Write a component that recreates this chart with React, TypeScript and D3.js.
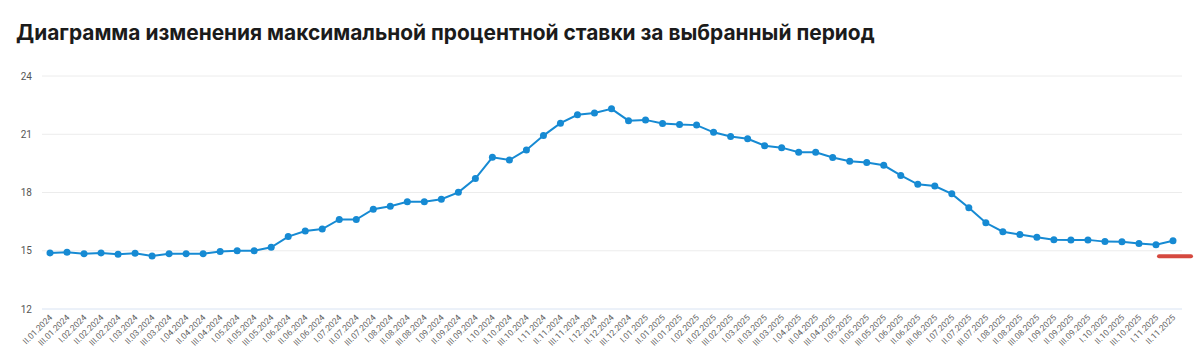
import React, { useEffect } from 'react';
import * as d3 from 'd3';

const title = 'Диаграмма изменения максимальной процентной ставки за выбранный период';

const periods = [
  'II.01.2024', 'III.01.2024',
  'I.02.2024', 'II.02.2024', 'III.02.2024',
  'I.03.2024', 'II.03.2024', 'III.03.2024',
  'I.04.2024', 'II.04.2024', 'III.04.2024',
  'I.05.2024', 'II.05.2024', 'III.05.2024',
  'I.06.2024', 'II.06.2024', 'III.06.2024',
  'I.07.2024', 'II.07.2024', 'III.07.2024',
  'I.08.2024', 'II.08.2024', 'III.08.2024',
  'I.09.2024', 'II.09.2024', 'III.09.2024',
  'I.10.2024', 'II.10.2024', 'III.10.2024',
  'I.11.2024', 'II.11.2024', 'III.11.2024',
  'I.12.2024', 'II.12.2024', 'III.12.2024',
  'I.01.2025', 'II.01.2025', 'III.01.2025',
  'I.02.2025', 'II.02.2025', 'III.02.2025',
  'I.03.2025', 'II.03.2025', 'III.03.2025',
  'I.04.2025', 'II.04.2025', 'III.04.2025',
  'I.05.2025', 'II.05.2025', 'III.05.2025',
  'I.06.2025', 'II.06.2025', 'III.06.2025',
  'I.07.2025', 'II.07.2025', 'III.07.2025',
  'I.08.2025', 'II.08.2025', 'III.08.2025',
  'I.09.2025', 'II.09.2025', 'III.09.2025',
  'I.10.2025', 'II.10.2025', 'III.10.2025',
  'I.11.2025', 'II.11.2025',
];

const maxRate = [
  14.89, 14.92, 14.85, 14.89, 14.82, 14.87, 14.73, 14.85, 14.85, 14.85,
  14.96, 15.0, 15.0, 15.18, 15.73, 16.02, 16.12, 16.61, 16.61, 17.14,
  17.29, 17.52, 17.52, 17.65, 18.01, 18.72, 19.81, 19.67, 20.19, 20.93,
  21.57, 22.0, 22.1, 22.31, 21.7, 21.74, 21.55, 21.5, 21.47, 21.1,
  20.88, 20.77, 20.41, 20.31, 20.07, 20.07, 19.8, 19.61, 19.54, 19.4,
  18.88, 18.42, 18.33, 17.93, 17.22, 16.44, 15.98, 15.84, 15.7, 15.57,
  15.56, 15.56, 15.47, 15.46, 15.37, 15.31, 15.52,
];

const yTicks = [12, 15, 18, 21, 24];

// short red marker to the right of the last point
const currentMark = 14.72;

const W = 1200;
const H = 360;
const plot = { left: 42, right: 1182, top: 76, bottom: 309 };

export default function App() {
  useEffect(() => {
    document.body.style.margin = '0';
  }, []);

  const x = d3.scalePoint<string>()
    .domain(periods)
    .range([50, 1173]);

  const y = d3.scaleLinear()
    .domain([12, 24])
    .range([plot.bottom, plot.top]);

  const line = d3.line<number>()
    .x((_, i) => x(periods[i]) as number)
    .y(d => y(d));

  const lastX = x(periods[periods.length - 1]) as number;

  return (
    <svg width={W} height={H} style={{ display: 'block', background: '#fff' }}>
      <text x={16} y={40} fontFamily="Inter, 'Noto Sans', sans-serif" fontWeight={700}
        fontSize={20.9} fill="#1b1b1b">{title}</text>

      {yTicks.map(t => (
        <g key={t}>
          <line x1={plot.left} x2={plot.right} y1={y(t)} y2={y(t)}
            stroke={t === 12 ? '#d8e3f3' : '#ececec'} strokeWidth={1} />
          <text x={32} y={y(t)} dy="0.35em" textAnchor="end"
            fontFamily="Roboto, sans-serif" fontSize={10} fill="#555">{t}</text>
        </g>
      ))}

      {periods.map(p => (
        <text key={p}
          transform={`translate(${(x(p) as number) + 3},${plot.bottom + 9}) rotate(-45)`}
          textAnchor="end" fontFamily="Roboto, sans-serif" fontSize={8.5} fill="#666">
          {p}
        </text>
      ))}

      <path d={line(maxRate) ?? ''} fill="none" stroke="#168ad3" strokeWidth={2} />
      {maxRate.map((v, i) => (
        <circle key={i} cx={x(periods[i]) as number} cy={y(v)} r={3.5} fill="#168ad3" />
      ))}

      <line x1={lastX - 14} x2={lastX + 18} y1={y(currentMark)} y2={y(currentMark)}
        stroke="#d5493f" strokeWidth={4} strokeLinecap="round" />
    </svg>
  );
}
